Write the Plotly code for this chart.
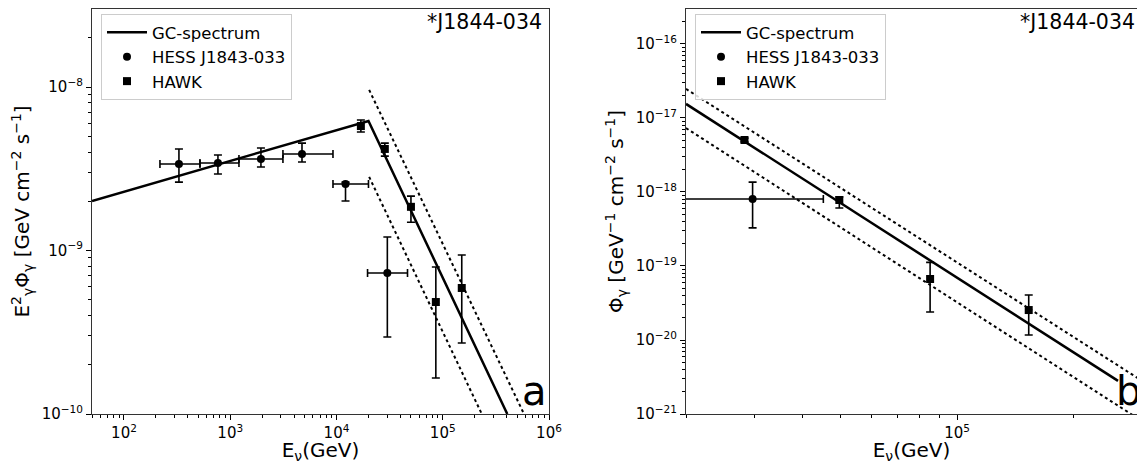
import numpy as np
import plotly.graph_objects as go

# ---------------- data ----------------
# Panel a: E^2 * flux  [GeV cm^-2 s^-1]
hess_e = [329, 766, 1945, 4735, 12160, 30100]
hess_e_lo = [218, 519, 1208, 3133, 9268, 19600]
hess_e_hi = [519, 1208, 3133, 9268, 20000, 46600]
hess_sed = [3.38e-9, 3.43e-9, 3.63e-9, 3.89e-9, 2.55e-9, 7.28e-10]
hess_sed_lo = [2.62e-9, 2.94e-9, 3.24e-9, 3.48e-9, 2.01e-9, 2.96e-10]
hess_sed_hi = [4.18e-9, 3.84e-9, 4.24e-9, 4.54e-9, 2.62e-9, 1.21e-9]

hawk_e = [16960, 28500, 50200, 86100, 151000]
hawk_sed = [5.77e-9, 4.18e-9, 1.85e-9, 4.84e-10, 5.90e-10]
hawk_sed_lo = [5.31e-9, 3.78e-9, 1.49e-9, 1.66e-10, 2.72e-10]
hawk_sed_hi = [6.28e-9, 4.54e-9, 2.15e-9, 7.93e-10, 9.38e-10]

gc_e_a = [50, 2.0e4, 4.05e5]
gc_sed_a = [2.01e-9, 6.2e-9, 1.0e-10]
band_hi_e_a = [2.03e4, 5.82e5]
band_hi_sed_a = [9.6e-9, 1.0e-10]
band_lo_e_a = [2.03e4, 2.33e5]
band_lo_sed_a = [2.82e-9, 1.0e-10]

# Panel b: differential flux  [GeV^-1 cm^-2 s^-1]
hess_e_b = [29700]
hess_e_lo_b = [19600]
hess_e_hi_b = [45200]
hess_flux_b = [8.04e-19]
hess_flux_lo_b = [3.27e-19]
hess_flux_hi_b = [1.36e-18]

hawk_e_b = [28300, 49700, 85200, 153000]
hawk_flux_b = [5.04e-18, 7.8e-19, 6.67e-20, 2.54e-20]
hawk_flux_lo_b = [4.75e-18, 6.08e-19, 2.39e-20, 1.17e-20]
hawk_flux_hi_b = [5.35e-18, 8.55e-19, 1.12e-19, 4.06e-20]

gc_e_b = [2.0e4, 2.6e5]
gc_flux_b = [1.55e-17, 2.8e-21]
band_hi_e_b = [2.0e4, 3.0e5]
band_hi_flux_b = [2.47e-17, 2.8e-21]
band_lo_e_b = [2.0e4, 3.0e5]
band_lo_flux_b = [7.3e-18, 8.0e-22]

source_name = "*J1844-034"

# ---------------- helpers ----------------
W, H = 1137, 464
FONT = "DejaVu Sans"
INK = "black"


def px_x(p):
    return p / W


def px_y(p):
    return 1 - p / H


def minus(v, lo):
    return [a - b for a, b in zip(v, lo)]


def plus(v, hi):
    return [b - a for a, b in zip(v, hi)]


def decade_label(n):
    s = str(n).replace("-", "\u2212")
    return f"10<sup>{s}</sup>"


def minor_vals(lo_exp, hi_exp, vmin, vmax):
    out = []
    for d in range(lo_exp, hi_exp + 1):
        for m in range(2, 10):
            v = m * 10.0 ** d
            if vmin <= v <= vmax:
                out.append(v)
    return out


fig = go.Figure()

err_style = dict(color=INK, thickness=1.6, width=4)

# ---- panel a ----
fig.add_trace(go.Scatter(
    x=gc_e_a, y=gc_sed_a, mode="lines", name="GC-spectrum",
    line=dict(color=INK, width=2.5), xaxis="x", yaxis="y", legend="legend"))
fig.add_trace(go.Scatter(
    x=band_hi_e_a, y=band_hi_sed_a, mode="lines", showlegend=False,
    line=dict(color=INK, width=2, dash="dot"), xaxis="x", yaxis="y"))
fig.add_trace(go.Scatter(
    x=band_lo_e_a, y=band_lo_sed_a, mode="lines", showlegend=False,
    line=dict(color=INK, width=2, dash="dot"), xaxis="x", yaxis="y"))
fig.add_trace(go.Scatter(
    x=hess_e, y=hess_sed, mode="markers", name="HESS J1843-033",
    marker=dict(symbol="circle", size=8, color=INK),
    error_x=dict(type="data", symmetric=False, array=plus(hess_e, hess_e_hi),
                 arrayminus=minus(hess_e, hess_e_lo), **err_style),
    error_y=dict(type="data", symmetric=False, array=plus(hess_sed, hess_sed_hi),
                 arrayminus=minus(hess_sed, hess_sed_lo), **err_style),
    xaxis="x", yaxis="y", legend="legend"))
fig.add_trace(go.Scatter(
    x=hawk_e, y=hawk_sed, mode="markers", name="HAWK",
    marker=dict(symbol="square", size=8, color=INK),
    error_y=dict(type="data", symmetric=False, array=plus(hawk_sed, hawk_sed_hi),
                 arrayminus=minus(hawk_sed, hawk_sed_lo), **err_style),
    xaxis="x", yaxis="y", legend="legend"))

# ---- panel b ----
fig.add_trace(go.Scatter(
    x=gc_e_b, y=gc_flux_b, mode="lines", name="GC-spectrum",
    line=dict(color=INK, width=2.5), xaxis="x2", yaxis="y2", legend="legend2"))
fig.add_trace(go.Scatter(
    x=band_hi_e_b, y=band_hi_flux_b, mode="lines", showlegend=False,
    line=dict(color=INK, width=2, dash="dot"), xaxis="x2", yaxis="y2"))
fig.add_trace(go.Scatter(
    x=band_lo_e_b, y=band_lo_flux_b, mode="lines", showlegend=False,
    line=dict(color=INK, width=2, dash="dot"), xaxis="x2", yaxis="y2"))
fig.add_trace(go.Scatter(
    x=hess_e_b, y=hess_flux_b, mode="markers", name="HESS J1843-033",
    marker=dict(symbol="circle", size=8, color=INK),
    error_x=dict(type="data", symmetric=False, array=plus(hess_e_b, hess_e_hi_b),
                 arrayminus=minus(hess_e_b, hess_e_lo_b), **err_style),
    error_y=dict(type="data", symmetric=False, array=plus(hess_flux_b, hess_flux_hi_b),
                 arrayminus=minus(hess_flux_b, hess_flux_lo_b), **err_style),
    xaxis="x2", yaxis="y2", legend="legend2"))
fig.add_trace(go.Scatter(
    x=hawk_e_b, y=hawk_flux_b, mode="markers", name="HAWK",
    marker=dict(symbol="square", size=8, color=INK),
    error_y=dict(type="data", symmetric=False, array=plus(hawk_flux_b, hawk_flux_hi_b),
                 arrayminus=minus(hawk_flux_b, hawk_flux_lo_b), **err_style),
    xaxis="x2", yaxis="y2", legend="legend2"))

# ---------------- axes ----------------
tickfont = dict(family=FONT, size=15, color=INK)
titlefont = dict(family=FONT, size=20, color=INK)
axis_common = dict(type="log", showgrid=False, zeroline=False, ticks="outside",
                   ticklen=5, tickwidth=1, tickcolor=INK, linecolor="#333",
                   linewidth=1.2, tickfont=tickfont, automargin=False)
minor_common = dict(ticks="outside", ticklen=2.5, tickwidth=0.8, tickcolor=INK, showgrid=False)

xa_range = [np.log10(50), 6]
ya_range = [-10, np.log10(3.0e-8)]
xb_range = [np.log10(2.0e4), np.log10(2.91e5)]
yb_range = [-21, np.log10(2.97e-16)]

dom_y = [px_y(414), px_y(9)]

fig.update_layout(
    xaxis=dict(domain=[px_x(92), px_x(549)], range=xa_range, anchor="y",
               tickvals=[10.0 ** k for k in range(2, 7)],
               ticktext=[decade_label(k) for k in range(2, 7)],
               minor=dict(tickvals=minor_vals(1, 5, 50, 1e6), **minor_common),
               title=dict(text="E<sub>\u03bd</sub>(GeV)", font=titlefont, standoff=10),
               mirror=True, showline=True, **axis_common),
    yaxis=dict(domain=dom_y, range=ya_range, anchor="x",
               tickvals=[1e-10, 1e-9, 1e-8],
               ticktext=[decade_label(k) for k in (-10, -9, -8)],
               minor=dict(tickvals=minor_vals(-10, -8, 1e-10, 3e-8), **minor_common),
               title=dict(text="E<sup>2</sup><sub>\u03b3</sub>\u03a6<sub>\u03b3</sub> [GeV cm<sup>\u22122</sup> s<sup>\u22121</sup>]",
                          font=titlefont, standoff=6),
               mirror=True, showline=True, **axis_common),
    xaxis2=dict(domain=[px_x(686), 1.0], range=xb_range, anchor="y2",
                tickvals=[1e5], ticktext=[decade_label(5)],
                minor=dict(tickvals=minor_vals(4, 5, 2.0e4, 3.0e5), **minor_common),
                title=dict(text="E<sub>\u03bd</sub>(GeV)", font=titlefont, standoff=10),
                mirror=True, showline=True, **axis_common),
    yaxis2=dict(domain=dom_y, range=yb_range, anchor="x2",
                tickvals=[10.0 ** k for k in range(-21, -15)],
                ticktext=[decade_label(k) for k in range(-21, -15)],
                minor=dict(tickvals=minor_vals(-21, -16, 1e-21, 2.97e-16), **minor_common),
                title=dict(text="\u03a6<sub>\u03b3</sub> [GeV<sup>\u22121</sup> cm<sup>\u22122</sup> s<sup>\u22121</sup>]",
                           font=titlefont, standoff=6),
                showline=True, **axis_common),
)

legend_common = dict(font=dict(family=FONT, size=16.5, color=INK),
                     bgcolor="rgba(255,255,255,0.85)", bordercolor="#cccccc",
                     borderwidth=1, xanchor="left", yanchor="top",
                     tracegroupgap=0, itemwidth=40)
fig.update_layout(
    legend=dict(x=px_x(101), y=px_y(14), **legend_common),
    legend2=dict(x=px_x(695), y=px_y(14), **legend_common),
)

annos = [
    dict(text=source_name, x=px_x(544), y=px_y(22), xanchor="right", yanchor="middle",
         font=dict(family=FONT, size=20.5, color=INK)),
    dict(text=source_name, x=1.0, y=px_y(22), xanchor="right", yanchor="middle",
         font=dict(family=FONT, size=20.5, color=INK)),
    dict(text="a", x=px_x(549), y=px_y(391), xanchor="right", yanchor="middle",
         font=dict(family=FONT, size=40, color=INK)),
    dict(text="b", x=px_x(1114), y=px_y(391), xanchor="left", yanchor="middle",
         font=dict(family=FONT, size=40, color=INK)),
]
for a in annos:
    fig.add_annotation(xref="paper", yref="paper", showarrow=False, **a)

fig.update_layout(width=W, height=H, autosize=False,
                  margin=dict(l=0, r=0, t=0, b=0),
                  paper_bgcolor="white", plot_bgcolor="white",
                  font=dict(family=FONT, color=INK))

fig.write_html("out.html")
